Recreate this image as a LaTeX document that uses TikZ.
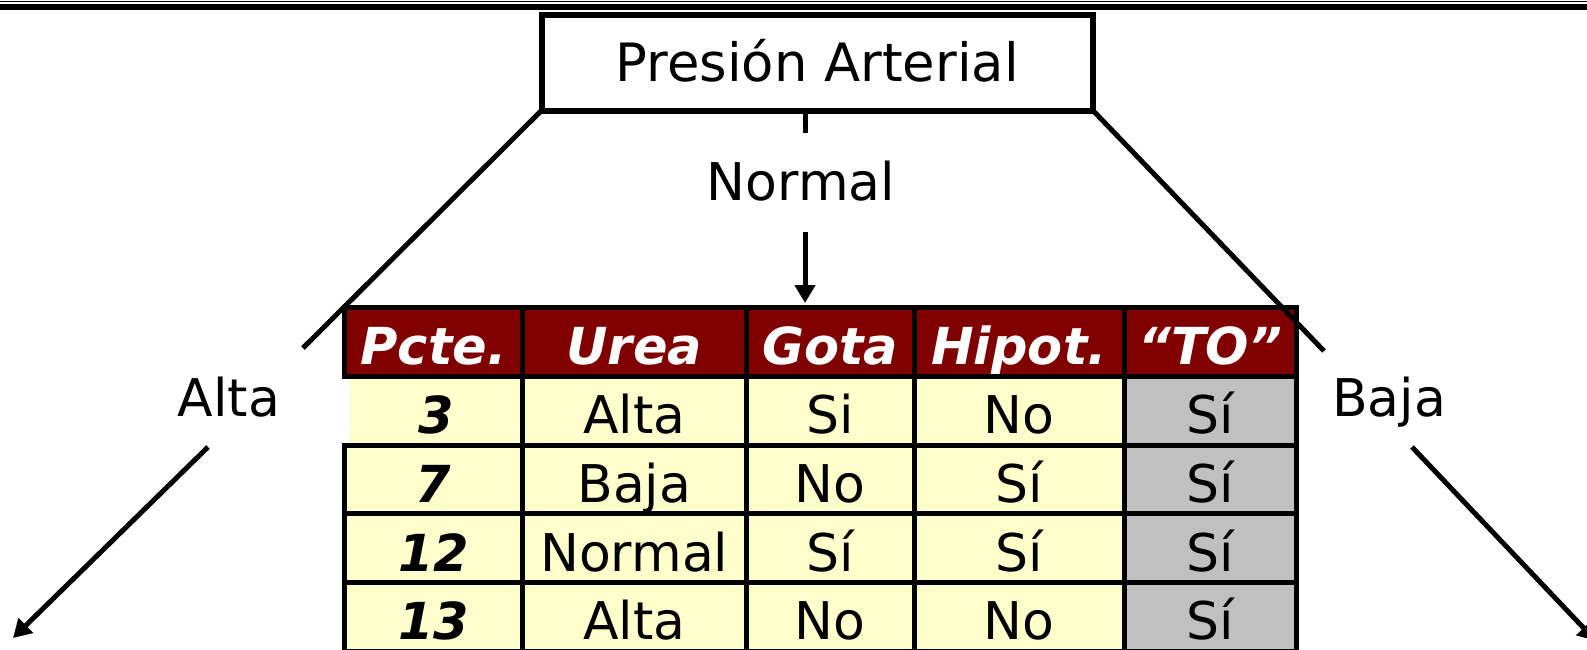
\documentclass[tikz,border=0pt]{standalone}
\usepackage{fontspec}
\setmainfont{DejaVu Sans}
\usepackage{tikz}
\usetikzlibrary{arrows.meta, positioning, calc}
\definecolor{headercolor}{RGB}{128,0,0}
\definecolor{rowcolor}{RGB}{255,255,204}
\definecolor{classcolor}{RGB}{192,192,192}

\begin{document}
\begin{tikzpicture}[
    x=1pt, y=-1pt,
    attribute/.style={draw, line width=6pt, fill=white, minimum width=551.5pt, minimum height=96pt, inner sep=0pt, outer sep=0pt, text height=37pt, text depth=0pt, font=\fontsize{52.8}{60}\selectfont},
    branch/.style={anchor=base, inner sep=0pt, font=\fontsize{52}{60}\selectfont},
    cell/.style={draw, line width=5pt, fill=rowcolor, inner sep=0pt, minimum height=68.75pt, text height=46pt, text depth=0pt, font=\fontsize{52}{60}\selectfont},
    header/.style={cell, fill=headercolor, text=white, font=\fontsize{51}{60}\selectfont\bfseries\itshape},
    patient/.style={cell, font=\fontsize{51}{60}\selectfont\bfseries\itshape},
    target/.style={cell, fill=classcolor},
    wpcte/.style={minimum width=178pt},
    wurea/.style={minimum width=223.5pt},
    wgota/.style={minimum width=168pt},
    whipot/.style={minimum width=210pt},
    wto/.style={minimum width=172.5pt},
    connector/.style={line width=5pt},
    arrow/.style={line width=5pt, -{Triangle[length=18pt, width=20pt]}}
]
    \clip (0,0) rectangle (1587,649);

    % Rules along the top
    \draw[line width=1pt] (0,1.5) -- (1587,1.5);
    \draw[line width=6pt] (0,7) -- (1587,7);

    % Attribute being tested
    \node[attribute] (presion) at (817.25,62.5) {Presión Arterial};

    % Branch labels
    \node[branch] (normal) at (801,200) {Normal};
    \node[branch] (alta) at (229,416) {Alta};
    \node[branch] (baja) at (1389,416) {Baja};

    % Header row
    \node[header, wpcte] (hpcte) at (433.5,341.875) {Pcte.};
    \node[header, wurea] (hurea) at (634.25,341.875) {Urea};
    \node[header, wgota] (hgota) at (830,341.875) {Gota};
    \node[header, whipot] (hhipot) at (1019,341.875) {Hipot.};
    \node[header, wto] (hto) at (1210.25,341.875) {“TO”};

    % Patient 3 (no left rule on this row)
    \node[patient, draw=none, minimum width=172pt, minimum height=63.75pt] (pcte3) at (436,410.625) {3};
    \node[cell, wurea] (urea3) at (634.25,410.625) {Alta};
    \node[cell, wgota] (gota3) at (830,410.625) {Si};
    \node[cell, whipot] (hipot3) at (1019,410.625) {No};
    \node[target, wto] (to3) at (1210.25,410.625) {Sí};

    % Patient 7
    \node[patient, wpcte] (pcte7) at (433.5,479.375) {7};
    \node[cell, wurea] (urea7) at (634.25,479.375) {Baja};
    \node[cell, wgota] (gota7) at (830,479.375) {No};
    \node[cell, whipot] (hipot7) at (1019,479.375) {Sí};
    \node[target, wto] (to7) at (1210.25,479.375) {Sí};

    % Patient 12
    \node[patient, wpcte] (pcte12) at (433.5,548.125) {12};
    \node[cell, wurea] (urea12) at (634.25,548.125) {Normal};
    \node[cell, wgota] (gota12) at (830,548.125) {Sí};
    \node[cell, whipot] (hipot12) at (1019,548.125) {Sí};
    \node[target, wto] (to12) at (1210.25,548.125) {Sí};

    % Patient 13
    \node[patient, wpcte] (pcte13) at (433.5,616.875) {13};
    \node[cell, wurea] (urea13) at (634.25,616.875) {Alta};
    \node[cell, wgota] (gota13) at (830,616.875) {No};
    \node[cell, whipot] (hipot13) at (1019,616.875) {No};
    \node[target, wto] (to13) at (1210.25,616.875) {Sí};

    % Branch ends
    \coordinate (normaltick) at (805,133);
    \coordinate (normalfrom) at (805,232);
    \coordinate (altatop) at (303,348);
    \coordinate (altafrom) at (208,447);
    \coordinate (altato) at (13,638);
    \coordinate (bajatop) at (1324,351);
    \coordinate (bajafrom) at (1412,447);
    \coordinate (bajato) at (1596,641);

    % Branches
    \draw[connector] (normaltick |- presion.south) -- (normaltick);
    \draw[arrow, shorten >=2pt] (normalfrom) -- (normalfrom |- hgota.north);

    \draw[connector] (presion.south west) -- (altatop);
    \draw[arrow] (altafrom) -- (altato);

    \draw[connector] (presion.south east) -- (bajatop);
    \draw[arrow] (bajafrom) -- (bajato);
\end{tikzpicture}
\end{document}
